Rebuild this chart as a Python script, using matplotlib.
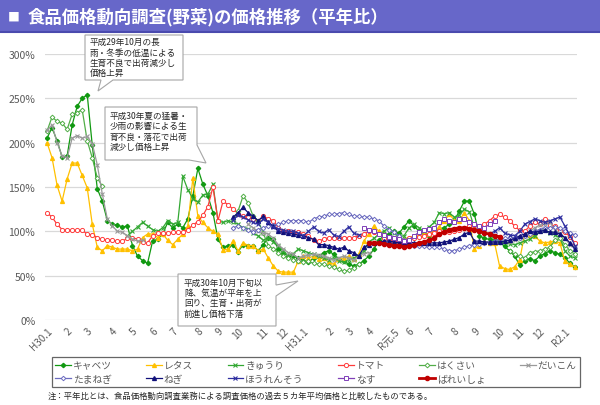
import numpy as np
import matplotlib
matplotlib.use('Agg')
import matplotlib.pyplot as plt
from matplotlib.patches import Polygon, Rectangle
from matplotlib.lines import Line2D
from matplotlib.transforms import ScaledTranslation

plt.rcParams['font.family'] = ['Noto Sans CJK JP', 'DejaVu Sans']

# ---------------- data (weekly, % of normal-year price) ----------------
tick_pos = [0, 4, 8, 13, 17, 21, 25, 30, 34, 38, 43, 47, 51, 56, 60, 64, 69, 72, 76, 81, 85, 90, 94, 98, 103]
tick_labels = ['H30.1', '2', '3', '4', '5', '6', '7', '8', '9', '10', '11', '12',
               'H31.1', '2', '3', '4', 'R元.5', '6', '7', '8', '9', '10', '11', '12', 'R2.1']

cabbage = [205, 217, 202, 184, 185, 220, 241, 250, 254, 197,
           148, 134, 112, 108, 107, 105, 106, 84, 72, 67,
           64, 89, 91, 97, 110, 104, 108, 104, 114, 140,
           171, 153, 140, 121, 91, 82, 84, 85, 77, 85,
           84, 84, 78, 85, 93, 91, 80, 76, 72, 72,
           70, 67, 65, 70, 72, 76, 78, 74, 69, 66,
           63, 61, 63, 67, 72, 80, 90, 95, 97, 100,
           98, 105, 112, 106, 100, 97, 95, 99, 103, 104,
           108, 112, 123, 134, 134, 119, 95, 92, 91, 90,
           88, 83, 78, 72, 62, 67, 69, 67, 72, 75,
           78, 76, 74, 70, 64, 60]

lettuce = [200, 183, 152, 134, 159, 177, 177, 163, 149, 108,
           82, 78, 84, 82, 80, 80, 80, 78, 80, 93,
           97, 97, 93, 97, 90, 85, 91, 97, 106, 160,
           117, 110, 104, 100, 97, 79, 80, 89, 78, 87,
           84, 84, 78, 80, 70, 61, 55, 54, 54, 54,
           67, 72, 70, 72, 69, 70, 65, 63, 69, 70,
           72, 69, 74, 89, 97, 106, 100, 97, 93, 89,
           90, 91, 93, 95, 96, 98, 97, 100, 105, 112,
           119, 113, 112, 121, 112, 80, 84, 88, 87, 87,
           61, 58, 57, 60, 68, 97, 96, 95, 89, 87,
           88, 89, 87, 66, 63, 60]

cucumber = [None] * 16 + [
    95, 100, 105, 110,
    106, 102, 100, 104, 112, 108, 110, 162, 147, 137,
    133, 141, 142, 153, 112, 110, 112, 110, 108, 104,
    103, 98, 95, 90, 92, 88, 84, 78, 72, 75,
    80, 78, 76, 74, 72, 70, 68, 70, 67, 65,
    68, 70, 72, 78, 88, 92, 97, 100, 104, 98,
    94, 95, 104, 108, 104, 100, 105, 110, 121, 120,
    121, 116, 118, 125, 122, 104, 100, 99, 96, 92,
    89, 88, 86, 85, 87, 89, 91, 95, 100, 102,
    98, 96, 93, 78, 72, 70]

tomato = [121, 116, 108, 102, 102, 101, 101, 101, 97, 96,
          93, 91, 90, 90, 89, 89, 92, 93, 91, 88,
          87, 95, 98, 98, 98, 99, 99, 99, 102, 107,
          111, 118, 128, 150, 112, 134, 130, 125, 120, 117,
          116, 114, 112, 117, 114, 112, 104, 100, 100, 99,
          99, 97, 95, 90, 89, 91, 93, 93, 93, 93,
          93, 93, 95, 97, 100, 99, 97, 93, 91, 89,
          87, 86, 92, 93, 94, 95, 97, 98, 100, 99,
          99, 100, 102, 104, 106, 107, 104, 108, 112, 117,
          119, 116, 112, 106, 101, 100, 106, 110, 108, 114,
          107, 106, 100, 99, 94, 87]

chinese_cabbage = ([213, 229, 224, 222, 215, 232, 234, 237, 202, 183, 160, 151]
                   + [None] * 25
                   + [112, 123, 140, 132, 117, 112, 98, 84, 80, 76, 72, 70, 68,
                      67, 65, 66, 64, 63, 63, 61, 60, 57, 55, 56, 59, 63]
                   + [None] * 29
                   + [78, 74, 72, 70, 76, 77, 78, 80, 82, 90, 92, 85, 78, 74])

radish = ([214, 220, 200, 185, 183, 205, 208, 205, 207, 199,
           175, 142, 114, 106, 100, 99, 95, 91, 89, 90]
          + [None] * 20
          + [108, 104, 100, 98, 97, 92, 85, 80, 76, 74,
             70, 72, 73, 74, 73, 72, 70, 68, 70, 72,
             70, 68, 72, 75, 76]
          + [None] * 27
          + [88, 90, 92, 95, 100, 104, 107, 108, 110, 102, 98, 92, 85, 82])

onion = [None] * 37 + [
    104, 106, 104, 102, 99, 102, 104, 106, 107, 108, 110, 112, 112,
    112, 112, 110, 114, 116, 117, 119, 119, 120, 121,
    119, 117, 117, 116, 116, 114, 112, 106, 102, 99,
    95, 90, 85, 84, 84, 83, 82, 82, 82, 80,
    78, 78, 80, 82, 84, 85, 86, 87, 87, 89,
    91, 92, 92, 93, 93, 95, 97, 100, 102, 104,
    104, 105, 104, 100, 98, 96]

welsh_onion = [None] * 37 + [
    116, 121, 127, 121, 117, 112, 117, 110, 106, 100, 99, 98, 97,
    96, 95, 93, 91, 85, 85, 84, 82, 80, 82,
    78, 76, 72, 82, 85, 87, 88, 89, 89, 88,
    87, 87, 88, 87, 87, 87, 87, 87, 87, 88,
    89, 91, 93, 97, 99, 89, 89, 88, 88, 88,
    88, 89, 90, 92, 95, 97, 100, 99, 100, 101,
    99, 99, 97, 93, 87, 80]

spinach = ([None] * 37
           + [113, 118, 116, 113, 110, 108, 114, 110, 105, 103, 101, 100, 100,
              98, 95, 100, 105, 100, 98, 102, 96, 94, 100, 105, 98, 96]
           + [None] * 25
           + [97, 100, 104, 98, 96, 95, 100, 108, 111, 114, 112, 110, 112, 114,
              116, 106, 95, 84])

eggplant = ([None] * 63
            + [104, 102, 100, 97, 96, 94, 93, 91, 89, 90,
               95, 99, 102, 103, 104, 110, 114, 112, 110, 114,
               114, 110, 108, 106, 104, 108, 112]
            + [None] * 16)

potato = ([None] * 64
          + [87, 87, 87, 86, 85, 84, 84, 82, 83, 85,
             87, 88, 90, 92, 97, 99, 102, 103, 104, 104,
             103, 102, 100, 98, 97, 95, 94]
          + [None] * 15)

names = ['キャベツ', 'レタス', 'きゅうり', 'トマト', 'はくさい', 'だいこん',
         'たまねぎ', 'ねぎ', 'ほうれんそう', 'なす', 'ばれいしょ']
series = [cabbage, lettuce, cucumber, tomato, chinese_cabbage, radish,
          onion, welsh_onion, spinach, eggplant, potato]

styles = [
    dict(color='#119911', marker='D', ms=2.2, mfc='#119911', lw=0.9),
    dict(color='#FFC000', marker='^', ms=2.8, mfc='#FFC000', lw=0.9),
    dict(color='#33A833', marker='x', ms=2.8, mew=0.8, lw=0.9),
    dict(color='#FF3B3B', marker='o', ms=3.0, mfc='white', mew=0.7, lw=0.9),
    dict(color='#52AE48', marker='D', ms=2.4, mfc='white', mew=0.7, lw=0.9),
    dict(color='#9A9A9A', marker='x', ms=2.8, mew=0.8, lw=0.9),
    dict(color='#6C6CC0', marker='D', ms=2.3, mfc='white', mew=0.7, lw=0.9),
    dict(color='#10107A', marker='^', ms=2.8, mfc='#10107A', lw=0.9),
    dict(color='#2E2EA0', marker='x', ms=2.8, mew=0.8, lw=0.9),
    dict(color='#8040B8', marker='s', ms=3.0, mfc='white', mew=0.7, lw=0.9),
    dict(color='#C00000', marker='o', ms=3.0, mfc='#C00000', lw=2.0),
]

# ---------------- figure ----------------
W, H = 600, 406
fig = plt.figure(figsize=(W / 100, H / 100), dpi=100)


def fx(x):
    return x / W


def fy(y):
    return 1 - y / H


ax = fig.add_axes([fx(45), fy(321), (577 - 45) / W, (321 - 55) / H])

handles = []
for name, vals, st in zip(names, series, styles):
    y = np.array(vals, dtype=float)
    x = np.arange(len(y))
    ln, = ax.plot(x, y, label=name, **st)
    handles.append(ln)

ax.set_xlim(-0.4, len(cabbage) - 1 + 0.4)
ax.set_ylim(0, 300)
ax.set_yticks(range(0, 301, 50))
ax.set_yticklabels([f'{v}%' for v in range(0, 301, 50)], fontsize=7.5, color='#595959')
ax.set_xticks(tick_pos)
ax.set_xticklabels(tick_labels, rotation=45, ha='right', va='top',
                   rotation_mode='anchor', fontsize=7.2, color='#595959')
shift = ScaledTranslation(-4 / 100, 0, fig.dpi_scale_trans)
for lbl in ax.get_xticklabels():
    lbl.set_transform(lbl.get_transform() + shift)
ax.tick_params(axis='both', length=0)
ax.tick_params(axis='y', pad=7)
ax.tick_params(axis='x', pad=4)
ax.grid(axis='y', color='#D9D9D9', lw=0.9)
ax.set_axisbelow(True)
for s in ax.spines.values():
    s.set_visible(False)

# ---------------- title bar ----------------
fig.add_artist(Rectangle((0, fy(33)), 1, 33 / H, transform=fig.transFigure,
                         facecolor='#6767C9', edgecolor='none', zorder=0))
fig.add_artist(Line2D([0, 1], [fy(33), fy(33)], transform=fig.transFigure,
                      color='#4A4AAE', lw=1.5))
fig.text(fx(8), fy(17), '■', color='white', fontsize=8.5, va='center', ha='left')
fig.text(fx(28), fy(17), '食品価格動向調査(野菜)の価格推移（平年比）', color='white',
         fontsize=12.5, fontweight='semibold', va='center', ha='left')


# ---------------- callouts ----------------
def callout(points, text_xy, lines):
    pts = [(fx(px), fy(py)) for px, py in points]
    fig.add_artist(Polygon(pts, closed=True, transform=fig.transFigure,
                           facecolor='white', edgecolor='#A6A6A6', lw=0.8, zorder=5))
    fig.text(fx(text_xy[0]), fy(text_xy[1]), '\n'.join(lines), fontsize=6.2,
             color='#262626', va='top', ha='left', linespacing=1.2, zorder=6)


callout([(85, 36), (183, 36), (183, 81), (113, 81), (98, 92), (101, 81), (85, 81)],
        (90, 38), ['平成29年10月の長', '雨・冬季の低温による', '生育不良で出荷減少し', '価格上昇'])
callout([(105, 108), (197, 108), (197, 146), (206, 164), (189, 161), (105, 161)],
        (110, 112), ['平成30年夏の猛暑・', '少雨の影響による生', '育不良・落花で出荷', '減少し価格上昇'])
callout([(178, 275), (276, 275), (276, 286), (298, 282), (276, 297), (276, 327), (178, 327)],
        (184, 278.5), ['平成30年10月下旬以', '降、気温が平年を上', '回り、生育・出荷が', '前進し価格下落'])

# ---------------- legend (row-major order) ----------------
order = [0, 6, 1, 7, 2, 8, 3, 9, 4, 10, 5]
leg = fig.legend([handles[i] for i in order], [names[i] for i in order], ncol=6, loc='lower left',
                 bbox_to_anchor=(fx(52), fy(388), (580 - 52) / W, (388 - 358) / H),
                 mode='expand', fontsize=7, handlelength=1.6, handletextpad=0.2,
                 borderpad=0.35, labelspacing=0.35, borderaxespad=0,
                 fancybox=False, frameon=True, labelcolor='#595959')
leg.get_frame().set_edgecolor('#404040')
leg.get_frame().set_linewidth(0.9)

fig.text(fx(48), fy(396), '注：平年比とは、食品価格動向調査業務による調査価格の過去５カ年平均価格と比較したものである。',
         fontsize=6, color='#262626', va='center', ha='left')

fig.savefig('out.png', dpi=100)
